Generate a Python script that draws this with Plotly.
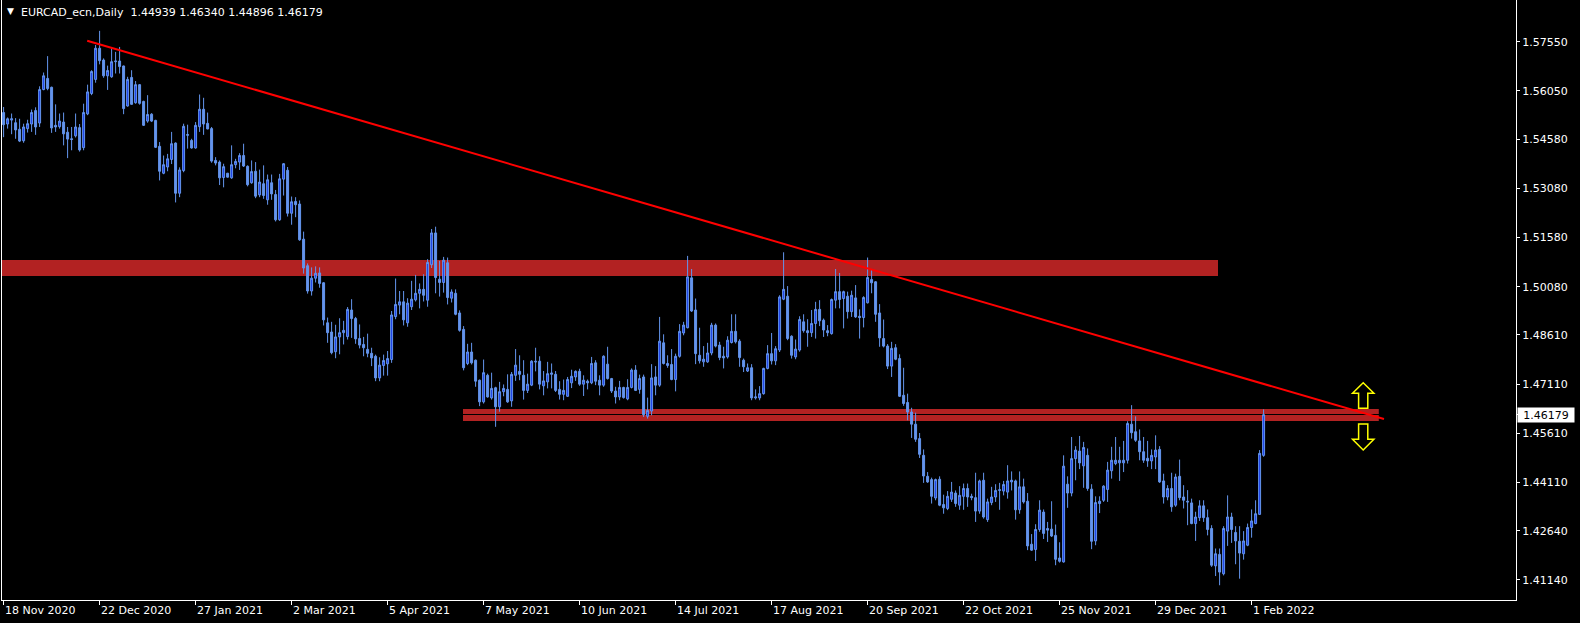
import plotly.graph_objects as go

# ---------------- data (EURCAD daily) ----------------
open_ = [1.5539,1.5504,1.5516,1.5508,1.5488,1.5453,1.5490,1.5504,1.5545,1.5507,
1.5609,1.5643,1.5616,1.5500,1.5496,1.5510,1.5479,1.5459,1.5468,1.5493,
1.5432,1.5535,1.5597,1.5640,1.5735,1.5699,1.5651,1.5648,1.5694,1.5696,
1.5681,1.5559,1.5646,1.5569,1.5624,1.5573,1.5513,1.5534,1.5515,1.5436,
1.5354,1.5373,1.5396,1.5446,1.5293,1.5362,1.5472,1.5454,1.5431,1.5496,
1.5549,1.5506,1.5490,1.5393,1.5388,1.5341,1.5354,1.5340,1.5380,1.5388,
1.5408,1.5375,1.5325,1.5360,1.5288,1.5322,1.5273,1.5325,1.5289,1.5212,
1.5336,1.5363,1.5232,1.5268,1.5260,1.5153,1.5072,1.4995,1.5034,1.5050,
1.5020,1.4898,1.4870,1.4810,1.4855,1.4868,1.4856,1.4937,1.4911,1.4850,
1.4832,1.4817,1.4805,1.4796,1.4730,1.4768,1.4773,1.4786,1.4917,1.4952,
1.4962,1.4898,1.4947,1.4968,1.4988,1.5000,1.4967,1.5075,1.5172,1.5031,
1.5021,1.5081,1.4973,1.4988,1.4928,1.4878,1.4774,1.4809,1.4784,1.4723,
1.4657,1.4738,1.4669,1.4700,1.4642,1.4688,1.4695,1.4660,1.4738,1.4750,
1.4738,1.4692,1.4708,1.4781,1.4781,1.4706,1.4718,1.4741,1.4741,1.4695,
1.4680,1.4674,1.4715,1.4733,1.4750,1.4711,1.4720,1.4715,1.4776,1.4723,
1.4708,1.4772,1.4728,1.4690,1.4672,1.4701,1.4666,1.4701,1.4754,1.4695,
1.4733,1.4613,1.4629,1.4733,1.4708,1.4837,1.4768,1.4771,1.4725,1.4796,
1.4867,1.4883,1.5035,1.4937,1.4799,1.4779,1.4779,1.4806,1.4891,1.4830,
1.4796,1.4794,1.4838,1.4872,1.4842,1.4784,1.4751,1.4761,1.4669,1.4669,
1.4682,1.4759,1.4804,1.4782,1.4815,1.4970,1.4979,1.4857,1.4794,1.4815,
1.4901,1.4874,1.4868,1.4896,1.4939,1.4906,1.4874,1.4865,1.4967,1.4993,
1.4972,1.4979,1.4932,1.4974,1.4918,1.4914,1.4959,1.5030,1.5023,1.4928,
1.4850,1.4827,1.4766,1.4822,1.4789,1.4677,1.4655,1.4626,1.4589,1.4545,
1.4494,1.4430,1.4420,1.4364,1.4421,1.4344,1.4332,1.4360,1.4379,1.4342,
1.4369,1.4393,1.4369,1.4365,1.4324,1.4418,1.4298,1.4350,1.4367,1.4387,
1.4385,1.4382,1.4413,1.4416,1.4328,1.4398,1.4354,1.4223,1.4207,1.4268,
1.4321,1.4271,1.4269,1.4250,1.4181,1.4169,1.4406,1.4379,1.4484,1.4507,
1.4462,1.4494,1.4391,1.4233,1.4347,1.4357,1.4390,1.4447,1.4469,1.4471,
1.4471,1.4479,1.4589,1.4566,1.4538,1.4505,1.4485,1.4477,1.4489,1.4512,
1.4416,1.4367,1.4393,1.4342,1.4430,1.4367,1.4354,1.4349,1.4286,1.4304,
1.4340,1.4304,1.4271,1.4157,1.4192,1.4133,1.4263,1.4306,1.4259,1.4232,
1.4194,1.4220,1.4274,1.4286,1.4314,1.44939]
high = [1.5556,1.5524,1.5536,1.5522,1.5520,1.5505,1.5517,1.5548,1.5555,1.5619,
1.5661,1.5711,1.5618,1.5564,1.5536,1.5539,1.5495,1.5495,1.5536,1.5504,
1.5566,1.5624,1.5668,1.5745,1.5788,1.5704,1.5682,1.5735,1.5724,1.5739,
1.5682,1.5648,1.5668,1.5635,1.5626,1.5575,1.5592,1.5537,1.5517,1.5449,
1.5408,1.5413,1.5480,1.5448,1.5372,1.5505,1.5502,1.5459,1.5510,1.5594,
1.5584,1.5539,1.5495,1.5403,1.5393,1.5383,1.5355,1.5439,1.5398,1.5415,
1.5444,1.5378,1.5393,1.5388,1.5365,1.5378,1.5350,1.5350,1.5303,1.5352,
1.5385,1.5373,1.5283,1.5281,1.5271,1.5176,1.5079,1.5067,1.5070,1.5067,
1.5022,1.4914,1.4901,1.4892,1.4912,1.4904,1.4946,1.4970,1.4916,1.4893,
1.4855,1.4865,1.4822,1.4801,1.4793,1.4801,1.4812,1.4934,1.5033,1.4995,
1.4995,1.4973,1.5026,1.5044,1.5018,1.5046,1.5092,1.5184,1.5191,1.5087,
1.5099,1.5097,1.5000,1.5000,1.4936,1.4888,1.4834,1.4837,1.4786,1.4725,
1.4786,1.4743,1.4746,1.4703,1.4718,1.4710,1.4741,1.4748,1.4818,1.4799,
1.4784,1.4743,1.4784,1.4822,1.4796,1.4751,1.4779,1.4774,1.4751,1.4720,
1.4725,1.4733,1.4755,1.4753,1.4758,1.4738,1.4725,1.4794,1.4784,1.4738,
1.4799,1.4825,1.4730,1.4703,1.4721,1.4703,1.4726,1.4759,1.4769,1.4740,
1.4740,1.4670,1.4772,1.4766,1.4916,1.4863,1.4799,1.4818,1.4804,1.4894,
1.4901,1.5102,1.5062,1.4972,1.4883,1.4827,1.4837,1.4898,1.4896,1.4840,
1.4825,1.4857,1.4924,1.4924,1.4848,1.4789,1.4774,1.4772,1.4695,1.4705,
1.4761,1.4830,1.4867,1.4827,1.4982,1.5113,1.5010,1.4860,1.4847,1.4918,
1.4924,1.4909,1.4937,1.4962,1.4967,1.4911,1.4891,1.4972,1.5062,1.5050,
1.4996,1.4993,1.4996,1.5013,1.4939,1.4979,1.5097,1.5059,1.5025,1.4955,
1.4908,1.4833,1.4840,1.4833,1.4802,1.4761,1.4682,1.4639,1.4624,1.4562,
1.4512,1.4443,1.4426,1.4423,1.4430,1.4374,1.4385,1.4413,1.4387,1.4400,
1.4408,1.4408,1.4377,1.4441,1.4420,1.4441,1.4362,1.4398,1.4406,1.4410,
1.4416,1.4464,1.4445,1.4420,1.4445,1.4423,1.4379,1.4254,1.4284,1.4357,
1.4329,1.4291,1.4354,1.4283,1.4229,1.4494,1.4430,1.4550,1.4522,1.4553,
1.4535,1.4515,1.4406,1.4369,1.4369,1.4403,1.4474,1.4520,1.4550,1.4520,
1.4538,1.4598,1.4647,1.4613,1.4573,1.4550,1.4538,1.4512,1.4555,1.4522,
1.4438,1.4403,1.4441,1.4438,1.4481,1.4403,1.4388,1.4362,1.4322,1.4357,
1.4357,1.4329,1.4281,1.4210,1.4210,1.4278,1.4372,1.4319,1.4278,1.4278,
1.4263,1.4286,1.4329,1.4357,1.4510,1.46340]
low = [1.5464,1.5490,1.5473,1.5459,1.5449,1.5447,1.5478,1.5480,1.5471,1.5495,
1.5607,1.5607,1.5477,1.5480,1.5490,1.5439,1.5400,1.5424,1.5463,1.5420,
1.5424,1.5531,1.5592,1.5630,1.5686,1.5645,1.5608,1.5645,1.5658,1.5658,
1.5534,1.5557,1.5563,1.5566,1.5563,1.5498,1.5508,1.5510,1.5431,1.5332,
1.5351,1.5360,1.5382,1.5265,1.5281,1.5357,1.5429,1.5429,1.5429,1.5480,
1.5471,1.5488,1.5386,1.5378,1.5318,1.5311,1.5341,1.5337,1.5369,1.5364,
1.5373,1.5314,1.5322,1.5278,1.5281,1.5276,1.5258,1.5273,1.5207,1.5209,
1.5286,1.5222,1.5197,1.5220,1.5148,1.5048,1.4987,1.4981,1.5021,1.5005,
1.4890,1.4837,1.4802,1.4790,1.4802,1.4832,1.4847,1.4852,1.4834,1.4820,
1.4796,1.4793,1.4766,1.4720,1.4720,1.4737,1.4737,1.4776,1.4909,1.4924,
1.4890,1.4886,1.4937,1.4963,1.4942,1.4963,1.4947,1.5065,1.4988,1.4978,
1.4990,1.4954,1.4960,1.4921,1.4871,1.4753,1.4769,1.4771,1.4703,1.4644,
1.4652,1.4670,1.4664,1.4581,1.4627,1.4674,1.4654,1.4642,1.4721,1.4723,
1.4664,1.4684,1.4705,1.4750,1.4695,1.4677,1.4698,1.4698,1.4687,1.4664,
1.4662,1.4672,1.4699,1.4721,1.4706,1.4675,1.4695,1.4711,1.4708,1.4677,
1.4703,1.4725,1.4684,1.4652,1.4662,1.4667,1.4662,1.4698,1.4690,1.4682,
1.4611,1.4606,1.4616,1.4677,1.4703,1.4771,1.4761,1.4723,1.4689,1.4792,
1.4860,1.4881,1.4931,1.4772,1.4774,1.4764,1.4776,1.4799,1.4823,1.4784,
1.4759,1.4789,1.4835,1.4835,1.4764,1.4748,1.4748,1.4662,1.4664,1.4662,
1.4679,1.4756,1.4771,1.4769,1.4809,1.4967,1.4845,1.4789,1.4787,1.4810,
1.4868,1.4825,1.4855,1.4850,1.4888,1.4855,1.4857,1.4862,1.4942,1.4942,
1.4881,1.4911,1.4916,1.4913,1.4850,1.4884,1.4957,1.4988,1.4901,1.4825,
1.4823,1.4757,1.4733,1.4784,1.4672,1.4645,1.4601,1.4547,1.4535,1.4486,
1.4410,1.4410,1.4347,1.4357,1.4339,1.4316,1.4327,1.4352,1.4337,1.4328,
1.4328,1.4337,1.4357,1.4291,1.4316,1.4301,1.4291,1.4342,1.4352,1.4328,
1.4372,1.4362,1.4387,1.4298,1.4316,1.4347,1.4205,1.4203,1.4172,1.4261,
1.4239,1.4230,1.4245,1.4159,1.4167,1.4167,1.4334,1.4369,1.4418,1.4452,
1.4395,1.4386,1.4208,1.4220,1.4318,1.4352,1.4352,1.4423,1.4464,1.4416,
1.4443,1.4469,1.4545,1.4535,1.4479,1.4471,1.4459,1.4452,1.4452,1.4410,
1.4347,1.4357,1.4322,1.4337,1.4357,1.4332,1.4281,1.4284,1.4233,1.4294,
1.4291,1.4250,1.4154,1.4126,1.4098,1.4128,1.4218,1.4227,1.4162,1.4118,
1.4176,1.4217,1.4243,1.4284,1.4313,1.44896]
close = [1.5502,1.5520,1.5520,1.5486,1.5452,1.5495,1.5505,1.5539,1.5495,1.5609,
1.5651,1.5612,1.5492,1.5495,1.5513,1.5474,1.5458,1.5457,1.5495,1.5425,
1.5539,1.5602,1.5664,1.5735,1.5697,1.5651,1.5667,1.5694,1.5696,1.5679,
1.5551,1.5640,1.5564,1.5624,1.5567,1.5500,1.5533,1.5513,1.5433,1.5360,
1.5380,1.5398,1.5444,1.5293,1.5364,1.5497,1.5470,1.5431,1.5500,1.5549,
1.5504,1.5489,1.5391,1.5385,1.5340,1.5374,1.5342,1.5380,1.5390,1.5408,
1.5376,1.5319,1.5359,1.5284,1.5327,1.5286,1.5334,1.5291,1.5212,1.5337,
1.5383,1.5232,1.5267,1.5258,1.5151,1.5065,1.4995,1.5034,1.5049,1.5018,
1.4907,1.4868,1.4807,1.4855,1.4868,1.4875,1.4939,1.4911,1.4849,1.4830,
1.4822,1.4805,1.4791,1.4730,1.4769,1.4783,1.4789,1.4922,1.4954,1.4962,
1.4907,1.4958,1.4970,1.4988,1.5000,1.4982,1.5082,1.5172,1.5036,1.5021,
1.5089,1.4975,1.4992,1.4924,1.4875,1.4761,1.4809,1.4776,1.4720,1.4657,
1.4746,1.4672,1.4698,1.4642,1.4688,1.4698,1.4657,1.4741,1.4769,1.4741,
1.4692,1.4711,1.4781,1.4779,1.4711,1.4721,1.4743,1.4745,1.4692,1.4680,
1.4692,1.4725,1.4735,1.4750,1.4711,1.4723,1.4715,1.4774,1.4720,1.4708,
1.4796,1.4728,1.4690,1.4672,1.4701,1.4670,1.4701,1.4754,1.4692,1.4728,
1.4618,1.4631,1.4730,1.4708,1.4842,1.4774,1.4774,1.4725,1.4796,1.4872,
1.4891,1.5038,1.4934,1.4804,1.4782,1.4787,1.4806,1.4891,1.4827,1.4792,
1.4791,1.4845,1.4872,1.4840,1.4792,1.4764,1.4761,1.4669,1.4672,1.4682,
1.4759,1.4804,1.4782,1.4819,1.4977,1.5000,1.4850,1.4799,1.4818,1.4908,
1.4874,1.4868,1.4896,1.4939,1.4904,1.4876,1.4868,1.4969,1.4993,1.4969,
1.4993,1.4932,1.4982,1.4916,1.4914,1.4975,1.5036,1.5020,1.4924,1.4852,
1.4827,1.4766,1.4820,1.4787,1.4674,1.4652,1.4626,1.4589,1.4543,1.4497,
1.4431,1.4413,1.4369,1.4420,1.4342,1.4334,1.4369,1.4382,1.4347,1.4372,
1.4393,1.4367,1.4365,1.4324,1.4416,1.4306,1.4352,1.4367,1.4387,1.4389,
1.4405,1.4416,1.4418,1.4328,1.4398,1.4352,1.4218,1.4205,1.4268,1.4327,
1.4256,1.4266,1.4248,1.4177,1.4171,1.4461,1.4379,1.4484,1.4510,1.4471,
1.4518,1.4393,1.4232,1.4350,1.4354,1.4400,1.4449,1.4479,1.4479,1.4479,
1.4479,1.4591,1.4563,1.4540,1.4505,1.4479,1.4477,1.4494,1.4510,1.4413,
1.4367,1.4393,1.4337,1.4428,1.4365,1.4357,1.4352,1.4286,1.4306,1.4340,
1.4304,1.4268,1.4159,1.4194,1.4138,1.4271,1.4306,1.4268,1.4233,1.4196,
1.4233,1.4274,1.4294,1.4316,1.4500,1.46179]

date_labels = ["18 Nov 2020", "22 Dec 2020", "27 Jan 2021", "2 Mar 2021", "5 Apr 2021",
               "7 May 2021", "10 Jun 2021", "14 Jul 2021", "17 Aug 2021", "20 Sep 2021",
               "22 Oct 2021", "25 Nov 2021", "29 Dec 2021", "1 Feb 2022"]
label_step = 24
price_ticks = [1.57550, 1.56050, 1.54580, 1.53080, 1.51580, 1.50080, 1.48610,
               1.47110, 1.45610, 1.44110, 1.42640, 1.41140]

# drawn objects (in price / bar units)
resistance_zone = [1.50407, 1.50895]
resistance_x = [-0.4, 303.6]
support_zone_1 = [1.46200, 1.46352]
support_zone_2 = [1.45986, 1.46169]
support_x = [114.85, 343.8]
trend_x = [20.9, 345.1]
trend_y = [1.5758, 1.46047]
arrow_x = 339.9
arrow_head_half = 2.67
arrow_shaft_half = 1.15
up_arrow_y = [1.47154, 1.46830, 1.46373]    # tip, head base, tail
down_arrow_y = [1.45895, 1.45428, 1.45102]  # tail, head base, tip

symbol = "EURCAD_ecn,Daily"

# ---------------- figure ----------------
FONT = "DejaVu Sans"
BULL_FILL = "#1a3ee8"
CANDLE = "#6495ED"

x = list(range(len(close)))

fig = go.Figure()
fig.add_trace(go.Candlestick(
    x=x, open=open_, high=high, low=low, close=close,
    increasing=dict(line=dict(color=CANDLE, width=1), fillcolor=BULL_FILL),
    decreasing=dict(line=dict(color=CANDLE, width=1), fillcolor=CANDLE),
    whiskerwidth=0, hoverinfo="skip", showlegend=False,
))

shapes = []
shapes.append(dict(type="rect", xref="x", yref="y", layer="below",
                   x0=resistance_x[0], x1=resistance_x[1],
                   y0=resistance_zone[0], y1=resistance_zone[1],
                   fillcolor="#B22222", line=dict(width=0)))
for z in (support_zone_1, support_zone_2):
    shapes.append(dict(type="rect", xref="x", yref="y", layer="below",
                       x0=support_x[0], x1=support_x[1], y0=z[0], y1=z[1],
                       fillcolor="#B22222", line=dict(width=0)))
shapes.append(dict(type="line", xref="x", yref="y", layer="above",
                   x0=trend_x[0], y0=trend_y[0], x1=trend_x[1], y1=trend_y[1],
                   line=dict(color="#FF0000", width=2)))


def arrow_path(tip, base, tail):
    a, h, s = arrow_x, arrow_head_half, arrow_shaft_half
    pts = [(a, tip), (a + h, base), (a + s, base), (a + s, tail),
           (a - s, tail), (a - s, base), (a - h, base)]
    return "M " + " L ".join(f"{px},{py}" for px, py in pts) + " Z"


shapes.append(dict(type="path", xref="x", yref="y", layer="above",
                   path=arrow_path(up_arrow_y[0], up_arrow_y[1], up_arrow_y[2]),
                   fillcolor="#000000", line=dict(color="#FFFF00", width=1.5)))
shapes.append(dict(type="path", xref="x", yref="y", layer="above",
                   path=arrow_path(down_arrow_y[2], down_arrow_y[1], down_arrow_y[0]),
                   fillcolor="#000000", line=dict(color="#FFFF00", width=1.5)))

annotations = []
for i, lab in enumerate(date_labels):
    annotations.append(dict(x=i * label_step, y=0, xref="x", yref="paper",
                            text=lab, showarrow=False, xanchor="left", yanchor="top",
                            xshift=-1, yshift=-2,
                            font=dict(family=FONT, size=11, color="#FFFFFF")))

last = close[-1]
annotations.append(dict(x=1, y=last, xref="paper", yref="y", text=f"{last:.5f}",
                        showarrow=False, xanchor="left", yanchor="middle", xshift=1,
                        bgcolor="#FFFFFF", borderpad=1, width=54, height=12,
                        font=dict(family=FONT, size=11, color="#000000")))
annotations.append(dict(x=0, y=1, xref="paper", yref="paper", text="\u25BC",
                        showarrow=False, xanchor="left", yanchor="top",
                        xshift=3, yshift=-4,
                        font=dict(family=FONT, size=9, color="#FFFFFF")))
header = (f"{symbol}\u00a0\u00a0{open_[-1]:.5f} {high[-1]:.5f} "
          f"{low[-1]:.5f} {close[-1]:.5f}")
annotations.append(dict(x=0, y=1, xref="paper", yref="paper", text=header,
                        showarrow=False, xanchor="left", yanchor="top",
                        xshift=17, yshift=-4,
                        font=dict(family=FONT, size=11, color="#FFFFFF")))

fig.update_layout(
    width=1580, height=623,
    margin=dict(l=2, r=64, t=0, b=23, pad=0),
    paper_bgcolor="#000000", plot_bgcolor="#000000",
    shapes=shapes, annotations=annotations,
    showlegend=False, hovermode=False,
    xaxis=dict(range=[-0.4, 378.1], rangeslider=dict(visible=False),
               showgrid=False, zeroline=False, showline=True, linecolor="#FFFFFF",
               linewidth=1, ticks="outside", ticklen=4, tickcolor="#FFFFFF",
               tickvals=[i * label_step for i in range(len(date_labels))],
               showticklabels=False, fixedrange=True),
    yaxis=dict(range=[1.40530, 1.58821], side="right",
               showgrid=False, zeroline=False, showline=True, mirror=True,
               linecolor="#FFFFFF", linewidth=1,
               ticks="outside", ticklen=3, tickcolor="#FFFFFF",
               tickvals=price_ticks + [last],
               ticktext=[f"{v:.5f}" for v in price_ticks] + [""],
               tickfont=dict(family=FONT, size=11, color="#FFFFFF"),
               fixedrange=True),
)

fig.write_html("out.html", config={"displayModeBar": False},
               post_script="document.body.style.margin='0';"
                           "document.body.style.background='#000';")
